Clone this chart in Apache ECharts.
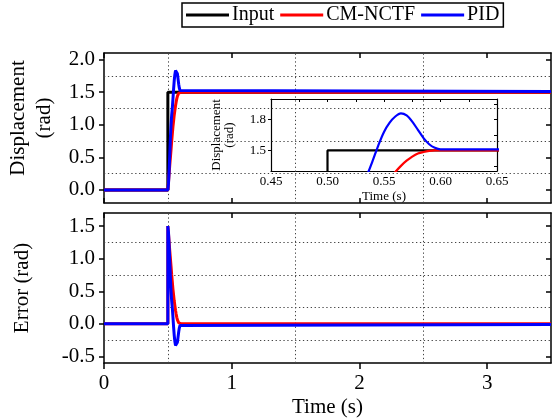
<!DOCTYPE html>
<html>
<head>
<meta charset="utf-8">
<script src="https://cdn.jsdelivr.net/npm/echarts@6/dist/echarts.min.js"></script>
<style>
html,body{margin:0;padding:0;background:#fff;}
#chart{width:552px;height:419px;}
</style>
</head>
<body>
<div id="chart"></div>
<script>
// ---------- data ----------
const seriesNames = ['Input', 'CM-NCTF', 'PID'];

// reference step input
const inputTime = [0, 0.5, 0.5, 3.5];
const inputDisp = [0, 0, 1.5, 1.5];

// displacement responses (rad)
const respTime = [0, 0.5, 0.505, 0.51, 0.515, 0.52, 0.525, 0.53, 0.535, 0.54, 0.545, 0.55, 0.555, 0.56, 0.565, 0.57, 0.575, 0.58, 0.585, 0.59, 0.595, 0.6, 0.61, 3.5];
const cmDisp   = [0, 0, 0.12, 0.25, 0.38, 0.5, 0.62, 0.75, 0.86, 0.97, 1.06, 1.15, 1.22, 1.29, 1.35, 1.4, 1.44, 1.47, 1.485, 1.495, 1.5, 1.5, 1.5, 1.5];
const pidDisp  = [0, 0, 0.1, 0.3, 0.55, 0.8, 1.0, 1.15, 1.26, 1.4, 1.55, 1.68, 1.77, 1.83, 1.86, 1.84, 1.78, 1.7, 1.62, 1.56, 1.525, 1.51, 1.51, 1.51];

// tracking error (rad)
const errTime = [0, 0.5, 0.5, 0.505, 0.51, 0.515, 0.52, 0.525, 0.53, 0.535, 0.54, 0.545, 0.55, 0.555, 0.56, 0.565, 0.57, 0.575, 0.58, 0.585, 0.59, 0.595, 0.6, 0.61, 3.5];
const cmErr    = [0, 0, 1.5, 1.38, 1.25, 1.12, 1.0, 0.88, 0.75, 0.64, 0.53, 0.44, 0.35, 0.28, 0.21, 0.15, 0.1, 0.06, 0.03, 0.015, 0.005, 0, 0, 0, 0];
const pidErr   = [0, 0, 1.5, 1.4, 1.2, 0.95, 0.7, 0.5, 0.35, 0.24, 0.1, -0.05, -0.18, -0.27, -0.33, -0.36, -0.34, -0.28, -0.2, -0.12, -0.06, -0.025, -0.01, -0.01, -0.01];

// tick labels / grid positions
const timeTicks = [0, 1, 2, 3];
const timeGrid = [0.5, 1.5, 2.5];
const dispTicks = [0, 0.5, 1.0, 1.5, 2.0];
const dispGrid = [0.25, 0.75, 1.25, 1.75];
const errTicks = [-0.5, 0, 0.5, 1.0, 1.5];
const errGrid = [-0.25, 0.25, 0.75, 1.25];
const insetTimeTicks = [0.45, 0.5, 0.55, 0.6, 0.65];
const insetTimeMinor = [0.45, 0.475, 0.5, 0.525, 0.55, 0.575, 0.6, 0.625, 0.65];
const insetDispTicks = [1.5, 1.8];
const insetDispMinor = [1.35, 1.5, 1.65, 1.8, 1.95];

// ---------- chart ----------
const FONT = "'Liberation Serif','Times New Roman',serif";
const colors = {'Input': '#000000', 'CM-NCTF': '#ff0000', 'PID': '#0000ff'};
const zip = (xs, ys) => xs.map((x, i) => [x, ys[i]]);
const axisLineStyle = {show: true, onZero: false, lineStyle: {color: '#000', width: 1.5}};
const dotted = {color: '#444', width: 1, type: [1.3, 2.6]};

function lineSeries(name, xs, ys, xi, yi, extra) {
  return Object.assign({
    name: name, type: 'line', xAxisIndex: xi, yAxisIndex: yi,
    data: zip(xs, ys), showSymbol: false, symbol: 'none', z: 3,
    lineStyle: {color: colors[name], width: 3}, itemStyle: {color: colors[name]},
    animation: false
  }, extra || {});
}
function gridLines(xi, yi, xs, ys) {
  return {
    type: 'line', xAxisIndex: xi, yAxisIndex: yi, data: [], silent: true, z: 1,
    markLine: {
      silent: true, symbol: 'none', animation: false, z: 1,
      label: {show: false}, lineStyle: dotted, emphasis: {disabled: true},
      data: xs.map(v => ({xAxis: v})).concat(ys.map(v => ({yAxis: v})))
    }
  };
}
function valueAxis(o) {
  return Object.assign({type: 'value', splitLine: {show: false}, axisLine: axisLineStyle}, o);
}
const fmt1 = v => Number(v).toFixed(1);
const fmt2 = v => Number(v).toFixed(2);

const option = {
  backgroundColor: '#fff',
  animation: false,
  legend: {
    data: seriesNames, left: 182, top: 3, padding: [2, 4], itemGap: 6,
    itemWidth: 43, itemHeight: 3, icon: 'rect',
    borderColor: '#000', borderWidth: 1.5,
    textStyle: {fontFamily: FONT, fontSize: 20, color: '#000', padding: [0, 0, 0, -2]},
    selectedMode: false
  },
  grid: [
    {left: 104, right: 1, top: 53, height: 150},
    {left: 104, right: 1, top: 213, height: 150},
    {left: 271, top: 99, width: 226, height: 72}
  ],
  xAxis: [
    valueAxis({gridIndex: 0, position: 'bottom', min: 0, max: 3.5,
      axisTick: {show: true, inside: true, length: 5, customValues: timeTicks, lineStyle: {color: '#000', width: 1.5}},
      axisLabel: {show: false, customValues: timeTicks}}),
    valueAxis({gridIndex: 0, position: 'top', min: 0, max: 3.5,
      axisTick: {show: true, inside: true, length: 5, customValues: timeTicks, lineStyle: {color: '#000', width: 1.5}},
      axisLabel: {show: false, customValues: timeTicks}}),
    valueAxis({gridIndex: 1, position: 'bottom', min: 0, max: 3.5,
      name: 'Time (s)', nameLocation: 'middle', nameGap: 34,
      nameTextStyle: {fontFamily: FONT, fontSize: 21, color: '#000'},
      axisTick: {show: true, inside: false, length: 6, customValues: timeTicks, lineStyle: {color: '#000', width: 1.5}},
      axisLabel: {show: true, customValues: timeTicks, margin: 10, fontFamily: FONT, fontSize: 21, color: '#000', formatter: v => String(v)}}),
    valueAxis({gridIndex: 1, position: 'top', min: 0, max: 3.5,
      axisTick: {show: true, inside: true, length: 5, customValues: timeTicks, lineStyle: {color: '#000', width: 1.5}},
      axisLabel: {show: false, customValues: timeTicks}}),
    valueAxis({gridIndex: 2, position: 'bottom', min: 0.45, max: 0.65,
      name: 'Time (s)', nameLocation: 'middle', nameGap: 19,
      nameTextStyle: {fontFamily: FONT, fontSize: 13, color: '#000'},
      axisLine: {show: true, onZero: false, lineStyle: {color: '#000', width: 1.2}},
      axisTick: {show: false, customValues: insetTimeTicks},
      axisLabel: {show: true, customValues: insetTimeTicks, margin: 4, fontFamily: FONT, fontSize: 13, color: '#000', formatter: fmt2}}),
    valueAxis({gridIndex: 2, position: 'top', min: 0.45, max: 0.65,
      axisLine: {show: true, onZero: false, lineStyle: {color: '#000', width: 1.2}},
      axisTick: {show: true, inside: true, length: 3, customValues: insetTimeMinor, lineStyle: {color: '#000', width: 1}},
      axisLabel: {show: false, customValues: insetTimeMinor}})
  ],
  yAxis: [
    valueAxis({gridIndex: 0, position: 'left', min: -0.2, max: 2.1,
      axisTick: {show: true, inside: false, length: 5, customValues: dispTicks, lineStyle: {color: '#000', width: 1.5}},
      axisLabel: {show: true, customValues: dispTicks, margin: 9, fontFamily: FONT, fontSize: 21, color: '#000', formatter: fmt1}}),
    valueAxis({gridIndex: 0, position: 'right', min: -0.2, max: 2.1,
      axisTick: {show: true, inside: true, length: 5, customValues: dispTicks, lineStyle: {color: '#000', width: 1.5}},
      axisLabel: {show: false, customValues: dispTicks}}),
    valueAxis({gridIndex: 1, position: 'left', min: -0.6, max: 1.7,
      axisTick: {show: true, inside: false, length: 5, customValues: errTicks, lineStyle: {color: '#000', width: 1.5}},
      axisLabel: {show: true, customValues: errTicks, margin: 9, fontFamily: FONT, fontSize: 21, color: '#000', formatter: fmt1}}),
    valueAxis({gridIndex: 1, position: 'right', min: -0.6, max: 1.7,
      axisTick: {show: true, inside: true, length: 5, customValues: errTicks, lineStyle: {color: '#000', width: 1.5}},
      axisLabel: {show: false, customValues: errTicks}}),
    valueAxis({gridIndex: 2, position: 'left', min: 1.3, max: 2.0,
      axisLine: {show: true, onZero: false, lineStyle: {color: '#000', width: 1.2}},
      axisTick: {show: true, inside: false, length: 3, customValues: insetDispTicks, lineStyle: {color: '#000', width: 1}},
      axisLabel: {show: true, customValues: insetDispTicks, margin: 5, fontFamily: FONT, fontSize: 13, color: '#000', formatter: fmt1}}),
    valueAxis({gridIndex: 2, position: 'right', min: 1.3, max: 2.0,
      axisLine: {show: true, onZero: false, lineStyle: {color: '#000', width: 1.2}},
      axisTick: {show: true, inside: true, length: 3, customValues: insetDispMinor, lineStyle: {color: '#000', width: 1}},
      axisLabel: {show: false, customValues: insetDispMinor}})
  ],
  graphic: [
    {type: 'text', x: 31, y: 118, rotation: Math.PI / 2,
      style: {text: 'Displacement\n(rad)', font: "21px 'Liberation Serif','Times New Roman',serif", fill: '#000',
        align: 'center', verticalAlign: 'middle', lineHeight: 26}},
    {type: 'text', x: 22, y: 288, rotation: Math.PI / 2,
      style: {text: 'Error (rad)', font: "21px 'Liberation Serif','Times New Roman',serif", fill: '#000',
        align: 'center', verticalAlign: 'middle'}},
    {type: 'text', x: 223, y: 135, rotation: Math.PI / 2,
      style: {text: 'Displacement\n(rad)', font: "13px 'Liberation Serif','Times New Roman',serif", fill: '#000',
        align: 'center', verticalAlign: 'middle', lineHeight: 13}}
  ],
  series: [
    gridLines(0, 0, timeGrid, dispGrid),
    gridLines(2, 2, timeGrid, errGrid),
    lineSeries('Input', inputTime, inputDisp, 0, 0),
    lineSeries('CM-NCTF', respTime, cmDisp, 0, 0),
    lineSeries('PID', respTime, pidDisp, 0, 0),
    lineSeries('CM-NCTF', errTime, cmErr, 2, 2),
    lineSeries('PID', errTime, pidErr, 2, 2),
    lineSeries('Input', inputTime, inputDisp, 4, 4, {lineStyle: {color: '#000', width: 2.2}}),
    lineSeries('CM-NCTF', respTime, cmDisp, 4, 4, {smooth: 0.3, lineStyle: {color: '#ff0000', width: 2.2}}),
    lineSeries('PID', respTime, pidDisp, 4, 4, {smooth: 0.3, lineStyle: {color: '#0000ff', width: 2.2}})
  ]
};

const chart = echarts.init(document.getElementById('chart'), null, {renderer: 'canvas'});
chart.setOption(option);
</script>
</body>
</html>
